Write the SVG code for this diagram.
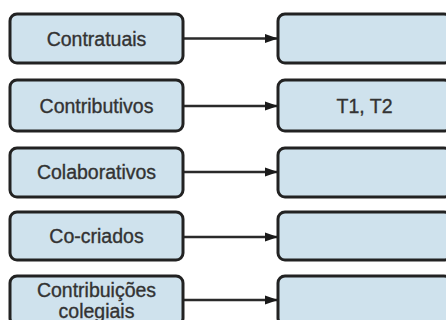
<svg xmlns="http://www.w3.org/2000/svg" width="446" height="320" viewBox="0 0 446 320">
<defs>
<style>
.box{fill:#cfe2ed;stroke:#222;stroke-width:3}
.t{font-family:"Liberation Sans",Arial,sans-serif;font-size:19.5px;fill:#333;stroke:#333;stroke-width:0.35;text-anchor:middle}
.c{stroke:#2a2a2a;stroke-width:2.4;fill:none}
</style>
<marker id="ah" markerWidth="13" markerHeight="10" refX="13" refY="5" orient="auto" markerUnits="userSpaceOnUse">
<path d="M0,0.5 L13,5 L0,9.5 Z" fill="#1a1a1a"/>
</marker>
</defs>
<rect width="446" height="320" fill="#fff"/>
<g id="connectors">
<line class="c" x1="184" y1="38.5" x2="278" y2="38.5" marker-end="url(#ah)"/>
<line class="c" x1="184" y1="106" x2="278" y2="106" marker-end="url(#ah)"/>
<line class="c" x1="184" y1="172" x2="278" y2="172" marker-end="url(#ah)"/>
<line class="c" x1="184" y1="237" x2="278" y2="237" marker-end="url(#ah)"/>
<line class="c" x1="184" y1="300" x2="278" y2="300" marker-end="url(#ah)"/>
</g>
<g id="n1"><rect class="box" x="10" y="14" width="173" height="49" rx="7"/><text class="t" x="96.5" y="45.5">Contratuais</text></g>
<g id="n2"><rect class="box" x="10" y="80" width="173" height="51" rx="7"/><text class="t" x="96.5" y="113">Contributivos</text></g>
<g id="n3"><rect class="box" x="10" y="148" width="173" height="49" rx="7"/><text class="t" x="96.5" y="179">Colaborativos</text></g>
<g id="n4"><rect class="box" x="10" y="212" width="173" height="48" rx="7"/><text class="t" x="96.5" y="243">Co-criados</text></g>
<g id="n5"><rect class="box" x="10" y="276" width="173" height="49" rx="7"/><text class="t" x="96.5" y="297">Contribuições</text><text class="t" x="96.5" y="318">colegiais</text></g>
<g id="r1"><rect class="box" x="278" y="14" width="173" height="49" rx="7"/></g>
<g id="r2"><rect class="box" x="278" y="80" width="173" height="51" rx="7"/><text class="t" x="364.5" y="113">T1, T2</text></g>
<g id="r3"><rect class="box" x="278" y="148" width="173" height="49" rx="7"/></g>
<g id="r4"><rect class="box" x="278" y="212" width="173" height="48" rx="7"/></g>
<g id="r5"><rect class="box" x="278" y="276" width="173" height="49" rx="7"/></g>
</svg>
